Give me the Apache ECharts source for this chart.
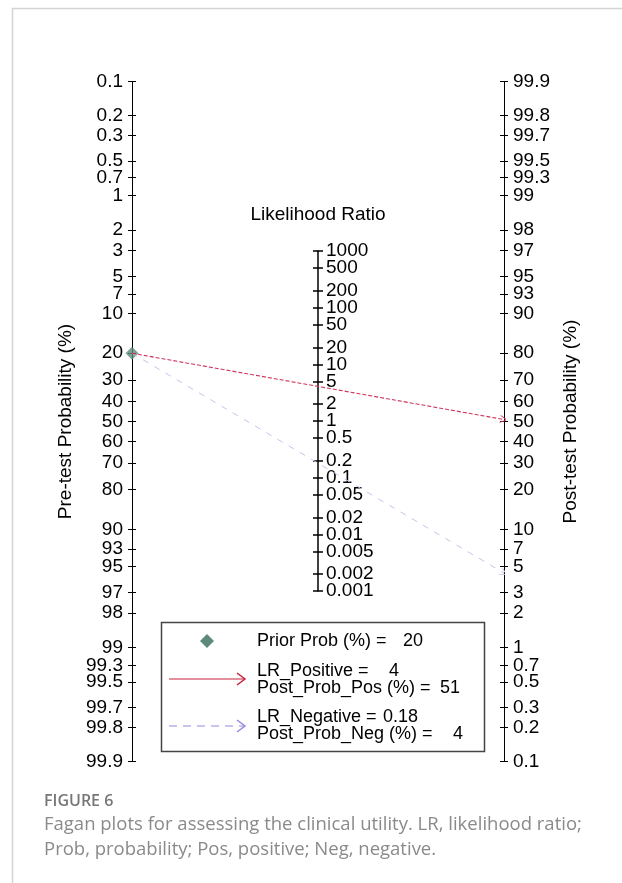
<!DOCTYPE html>
<html>
<head>
<meta charset="utf-8">
<script src="https://cdn.jsdelivr.net/npm/echarts@6/dist/echarts.min.js"></script>
<style>
  html, body { margin: 0; padding: 0; background: #fff; }
  #chart { width: 622px; height: 883px; }
</style>
</head>
<body>
<div id="chart"></div>
<script>
/* ========== Fagan nomogram ========== */

// tick labels of the three scales
const preTicks = [0.1, 0.2, 0.3, 0.5, 0.7, 1, 2, 3, 5, 7, 10, 20, 30, 40, 50, 60, 70, 80, 90, 93, 95, 97, 98, 99, 99.3, 99.5, 99.7, 99.8, 99.9];
const postTicks = [99.9, 99.8, 99.7, 99.5, 99.3, 99, 98, 97, 95, 93, 90, 80, 70, 60, 50, 40, 30, 20, 10, 7, 5, 3, 2, 1, 0.7, 0.5, 0.3, 0.2, 0.1];
const lrTicks = [1000, 500, 200, 100, 50, 20, 10, 5, 2, 1, 0.5, 0.2, 0.1, 0.05, 0.02, 0.01, 0.005, 0.002, 0.001];

// results
const priorProb = 20;
const lrPositive = 4;
const postProbPos = 51;
const lrNegative = 0.18;
const postProbNeg = 4.4;

const FONT = "'Liberation Sans', Arial, sans-serif";
const LEG = "18px " + FONT;

// logit helpers: left scale is flipped, right scale direct, middle = ln(LR)/2
const logit = p => Math.log(p / (100 - p));
const preY = p => -logit(p);
const postY = p => logit(p);
const lrY = v => Math.log(v) / 2;
const yMax = logit(99.9);
const lrMax = lrY(1000);

function nearestLabel(ticks, fn) {
    return value => {
        let best = ticks[0], d = Infinity;
        ticks.forEach(t => {
            const dd = Math.abs(fn(t) - value);
            if (dd < d) { d = dd; best = t; }
        });
        return String(best);
    };
}

function probAxis(pos, ticks, fn, name, withLabel) {
    const vals = ticks.map(fn);
    return {
        type: "value", gridIndex: 0, position: pos,
        min: -yMax, max: yMax,
        splitLine: { show: false },
        axisLine: { show: withLabel, lineStyle: { color: "#000", width: 1 } },
        axisTick: { show: true, inside: !withLabel, length: 4, customValues: vals, lineStyle: { color: "#000" } },
        axisLabel: {
            show: withLabel, customValues: vals, margin: 9, fontSize: 19, color: "#000", fontFamily: FONT,
            showMinLabel: true, showMaxLabel: true, hideOverlap: false,
            formatter: nearestLabel(ticks, fn),
        },
        name: withLabel ? name : "",
        nameLocation: "middle", nameRotate: 90, nameGap: 56,
        nameTextStyle: { fontSize: 19, color: "#000", fontFamily: FONT },
    };
}

// mode: "main" = line, right ticks, inner labels; "outer" = left ticks; "ends" = labels of 1000 / 0.001
function lrAxis(mode) {
    const vals = lrTicks.map(lrY);
    const n = lrTicks.length;
    const labelVals = mode === "ends" ? [vals[0], vals[n - 1]] : vals.slice(1, n - 1);
    return {
        type: "value", gridIndex: 1, position: "left",
        min: -lrMax, max: lrMax,
        splitLine: { show: false },
        axisLine: { show: mode === "main", lineStyle: { color: "#000", width: 1.5 } },
        axisTick: { show: mode !== "ends", inside: mode === "main", length: 5, customValues: vals, lineStyle: { color: "#000", width: 1.5 } },
        axisLabel: {
            show: mode !== "outer", inside: true, customValues: labelVals, margin: 8, fontSize: 19, color: "#000", fontFamily: FONT,
            showMinLabel: true, showMaxLabel: true, hideOverlap: false,
            formatter: nearestLabel(lrTicks, lrY),
        },
        name: mode === "main" ? "Likelihood Ratio" : "",
        nameLocation: "end", nameGap: 27,
        nameTextStyle: { fontSize: 19, color: "#000", fontFamily: FONT, align: "center" },
    };
}

const arrowHead = "path://M5,0 L10,9 L8.8,9 L5,2.2 L1.2,9 L0,9 Z";

const chart = echarts.init(document.getElementById("chart"));

chart.setOption({
    animation: false,
    backgroundColor: "#fff",
    grid: [
        { left: 132, right: 118, top: 81.5, bottom: 121.5 },
        { left: 318, width: 10, top: 251, bottom: 292 },
    ],
    xAxis: [
        { type: "value", gridIndex: 0, min: 0, max: 1, show: false },
        { type: "value", gridIndex: 1, min: 0, max: 1, show: false },
    ],
    yAxis: [
        probAxis("left", preTicks, preY, "Pre-test Probability (%)", true),
        probAxis("left", preTicks, preY, "", false),
        probAxis("right", postTicks, postY, "Post-test Probability (%)", true),
        probAxis("right", postTicks, postY, "", false),
        lrAxis("main"),
        lrAxis("outer"),
        lrAxis("ends"),
    ],
    series: [
        {
            type: "lines", coordinateSystem: "cartesian2d", xAxisIndex: 0, yAxisIndex: 0,
            data: [{ coords: [[0, preY(priorProb)], [1, postY(postProbNeg)]] }],
            symbol: ["none", arrowHead], symbolSize: [9, 8],
            lineStyle: { color: "#c4c4ea", width: 1, type: [6, 7], opacity: 1 },
            z: 3,
        },
        {
            type: "lines", coordinateSystem: "cartesian2d", xAxisIndex: 0, yAxisIndex: 0,
            data: [{ coords: [[0, preY(priorProb)], [1, postY(postProbPos)]] }],
            symbol: ["none", arrowHead], symbolSize: [9, 8],
            lineStyle: { color: "#d0345c", width: 1.1, type: [4, 2], opacity: 1 },
            z: 3,
        },
        {
            type: "scatter", xAxisIndex: 0, yAxisIndex: 0,
            data: [[0, preY(priorProb)]],
            symbol: "diamond", symbolSize: [13, 13],
            itemStyle: { color: "#5e8b79" },
            clip: false, z: 1,
        },
    ],
    graphic: [
        // page frame
        { type: "polyline", shape: { points: [[12.5, 883], [12.5, 8.5], [622, 8.5]] }, style: { stroke: "#d4d4d4", lineWidth: 1.5, fill: null } },
        // legend box
        { type: "rect", shape: { x: 161.5, y: 622.5, width: 323, height: 129 }, style: { stroke: "#444", lineWidth: 1.5, fill: "#fff" }, z: 5 },
        { type: "polygon", shape: { points: [[207, 634], [214, 641], [207, 648], [200, 641]] }, style: { fill: "#5e8b79" }, z: 6 },
        { type: "line", shape: { x1: 169, y1: 679, x2: 245, y2: 679 }, style: { stroke: "#c8203c", lineWidth: 1.2 }, z: 6 },
        { type: "polyline", shape: { points: [[237, 673], [245, 679], [237, 685]] }, style: { stroke: "#c8203c", lineWidth: 1.5, fill: null }, z: 6 },
        { type: "line", shape: { x1: 169, y1: 726, x2: 245, y2: 726 }, style: { stroke: "#938ae0", lineWidth: 1.2, lineDash: [8, 6] }, z: 6 },
        { type: "polyline", shape: { points: [[237, 720], [245, 726], [237, 732]] }, style: { stroke: "#938ae0", lineWidth: 1.5, fill: null }, z: 6 },
        { type: "text", x: 257, y: 641, style: { text: "Prior Prob (%) =", font: LEG, fill: "#000", verticalAlign: "middle" }, z: 6 },
        { type: "text", x: 423, y: 641, style: { text: String(priorProb), font: LEG, fill: "#000", align: "right", verticalAlign: "middle" }, z: 6 },
        { type: "text", x: 257, y: 671, style: { text: "LR_Positive =", font: LEG, fill: "#000", verticalAlign: "middle" }, z: 6 },
        { type: "text", x: 399, y: 671, style: { text: String(lrPositive), font: LEG, fill: "#000", align: "right", verticalAlign: "middle" }, z: 6 },
        { type: "text", x: 257, y: 688, style: { text: "Post_Prob_Pos (%) =", font: LEG, fill: "#000", verticalAlign: "middle" }, z: 6 },
        { type: "text", x: 460, y: 688, style: { text: String(Math.round(postProbPos)), font: LEG, fill: "#000", align: "right", verticalAlign: "middle" }, z: 6 },
        { type: "text", x: 257, y: 717, style: { text: "LR_Negative =", font: LEG, fill: "#000", verticalAlign: "middle" }, z: 6 },
        { type: "text", x: 418, y: 717, style: { text: String(lrNegative), font: LEG, fill: "#000", align: "right", verticalAlign: "middle" }, z: 6 },
        { type: "text", x: 257, y: 734, style: { text: "Post_Prob_Neg (%) =", font: LEG, fill: "#000", verticalAlign: "middle" }, z: 6 },
        { type: "text", x: 463, y: 734, style: { text: String(Math.round(postProbNeg)), font: LEG, fill: "#000", align: "right", verticalAlign: "middle" }, z: 6 },
        // caption
        { type: "text", x: 44, y: 801, style: { text: "FIGURE 6", font: "600 16px 'Open Sans', sans-serif", fill: "#777", verticalAlign: "middle" } },
        { type: "text", x: 44, y: 825, style: { text: "Fagan plots for assessing the clinical utility. LR, likelihood ratio;", font: "18.5px 'Open Sans', sans-serif", fill: "#8a8a8a", verticalAlign: "middle" } },
        { type: "text", x: 44, y: 850, style: { text: "Prob, probability; Pos, positive; Neg, negative.", font: "18.5px 'Open Sans', sans-serif", fill: "#8a8a8a", verticalAlign: "middle" } },
    ],
});
</script>
</body>
</html>
